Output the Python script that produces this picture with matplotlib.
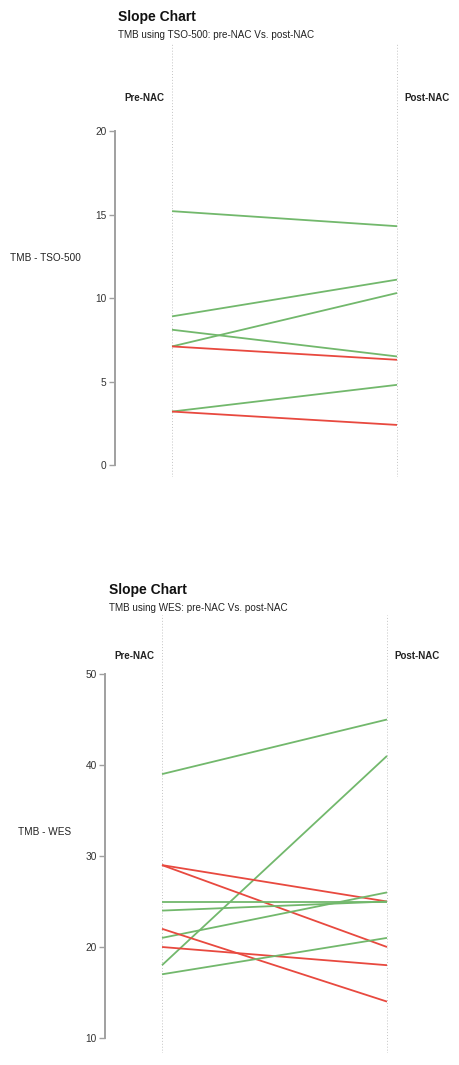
import matplotlib.pyplot as plt

# --- DATA ---
tso_pre = [15.2, 8.9, 7.1, 8.1, 7.1, 3.2, 3.2]
tso_post = [14.3, 11.1, 10.3, 6.5, 6.3, 4.8, 2.4]
tso_colors = ['g', 'g', 'g', 'g', 'r', 'g', 'r']

wes_pre = [39, 18, 29, 29, 25, 24, 21, 22, 20, 17]
wes_post = [45, 41, 25, 20, 25, 25, 26, 14, 18, 21]
wes_colors = ['g', 'g', 'r', 'r', 'g', 'g', 'g', 'r', 'r', 'g']

col_labels = ['Pre-NAC', 'Post-NAC']
renk = {'g': '#72b86c', 'r': '#e8493f'}

plt.rcParams['font.family'] = ['Liberation Sans', 'DejaVu Sans']

W, H = 460, 1065
fig = plt.figure(figsize=(W / 100, H / 100), dpi=100)


def px_axes(left, top, right, bottom):
    return fig.add_axes([left / W, 1 - bottom / H, (right - left) / W, (bottom - top) / H])


def slope_panel(pre, post, colors, title, subtitle, ylabel, ymin, ymax, ticks,
                spine_x, pre_x, post_x, top, bottom, y_lo_px, y_hi_px,
                title_x, title_y, label_y, ylabel_x, ylabel_y):
    ax = px_axes(spine_x, top, 455, bottom)
    # x: pre=1, post=2
    unit = post_x - pre_x
    ax.set_xlim(1 - (pre_x - spine_x) / unit, 2 + (455 - post_x) / unit)
    # y limits so that ymin/ymax land at the given pixel rows
    per_px = (ymax - ymin) / (y_lo_px - y_hi_px)
    ax.set_ylim(ymin - (bottom - y_lo_px) * per_px, ymax + (y_hi_px - top) * per_px)

    for x in (1, 2):
        ax.axvline(x, color='#c4c4c4', lw=0.7, ls=(0, (1, 2)), zorder=1)

    for a, b, c in zip(pre, post, colors):
        ax.plot([1, 2], [a, b], color=renk[c], lw=1.3, zorder=3, solid_capstyle='butt')

    for s in ('top', 'right', 'bottom'):
        ax.spines[s].set_visible(False)
    ax.spines['left'].set_bounds(ymin, ymax)
    ax.spines['left'].set_color('#a0a0a0')
    ax.spines['left'].set_linewidth(1.4)
    ax.set_yticks(ticks)
    ax.tick_params(axis='y', colors='#a0a0a0', length=4, width=1, labelsize=7.3,
                   labelcolor='#333333', pad=2)
    ax.set_xticks([])
    ax.patch.set_alpha(0)

    fig.text(title_x / W, 1 - title_y / H, title, fontsize=10, fontweight='bold',
             ha='left', va='center', color='#111111')
    fig.text(title_x / W, 1 - (title_y + 18) / H, subtitle, fontsize=7.1,
             ha='left', va='center', color='#222222')
    fig.text((pre_x - 8) / W, 1 - label_y / H, col_labels[0], fontsize=7,
             fontweight='bold', ha='right', va='center', color='#222222')
    fig.text((post_x + 7) / W, 1 - label_y / H, col_labels[1], fontsize=7,
             fontweight='bold', ha='left', va='center', color='#222222')
    fig.text(ylabel_x / W, 1 - ylabel_y / H, ylabel, fontsize=7.2,
             ha='left', va='center', color='#222222')
    return ax


slope_panel(tso_pre, tso_post, tso_colors, 'Slope Chart',
            'TMB using TSO-500: pre-NAC Vs. post-NAC', 'TMB - TSO-500',
            0, 20, [0, 5, 10, 15, 20],
            spine_x=115, pre_x=172, post_x=397, top=43, bottom=477,
            y_lo_px=465, y_hi_px=131, title_x=118, title_y=17, label_y=98,
            ylabel_x=10, ylabel_y=258)

slope_panel(wes_pre, wes_post, wes_colors, 'Slope Chart',
            'TMB using WES: pre-NAC Vs. post-NAC', 'TMB - WES',
            10, 50, [10, 20, 30, 40, 50],
            spine_x=105, pre_x=162, post_x=387, top=615, bottom=1053,
            y_lo_px=1038, y_hi_px=674, title_x=109, title_y=590, label_y=656,
            ylabel_x=18, ylabel_y=832)

fig.savefig('out.png', dpi=100, facecolor='white')
